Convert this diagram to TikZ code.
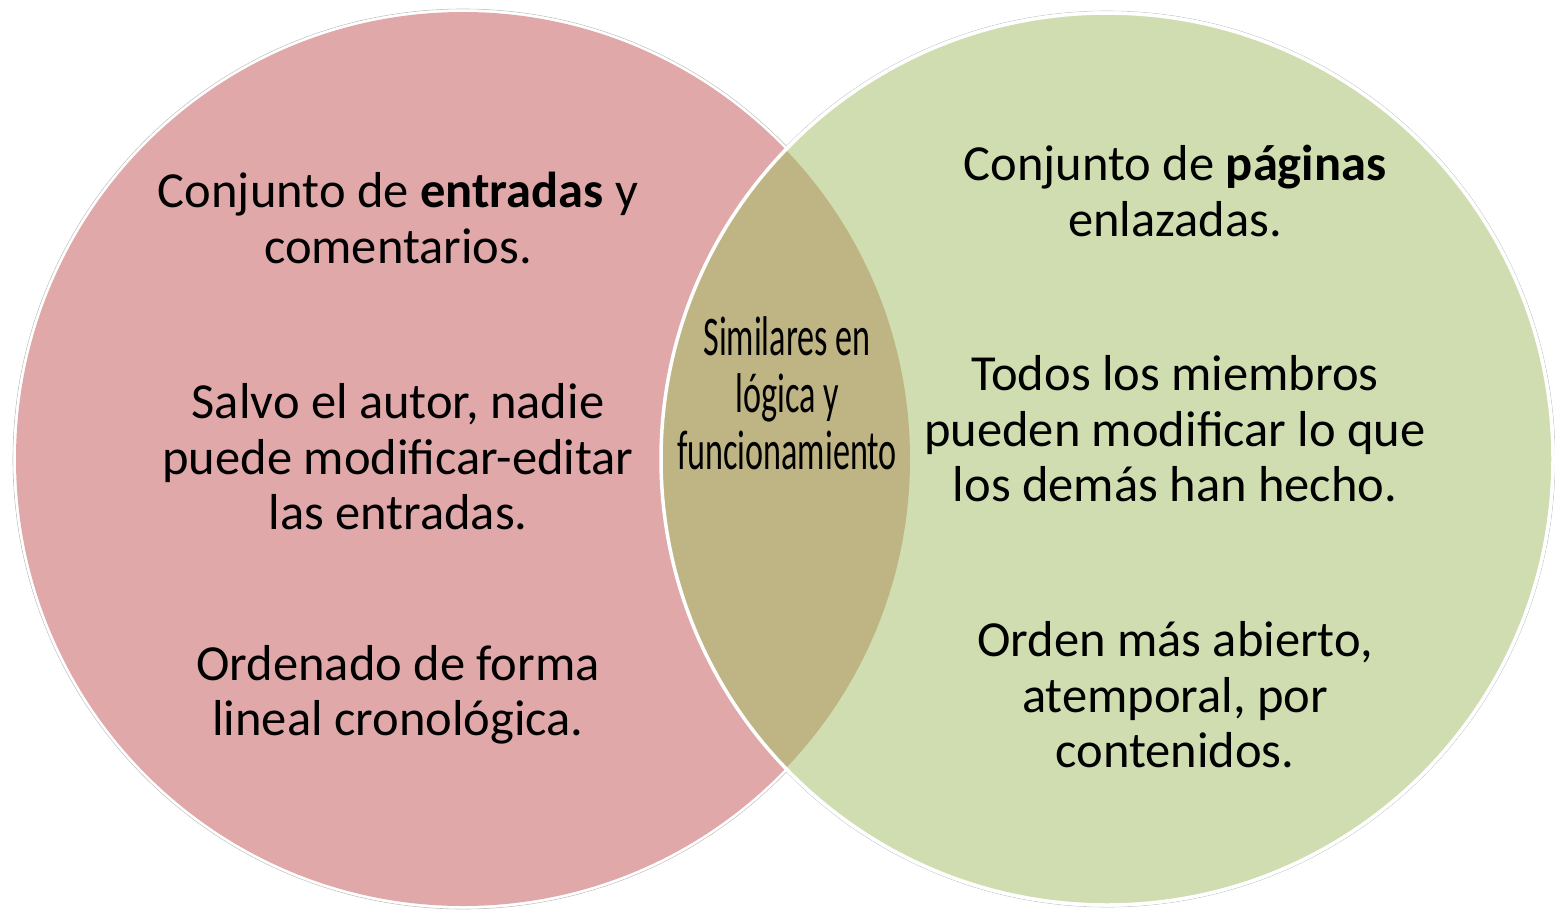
\documentclass[tikz,border=0pt]{standalone}
\usepackage{fontspec}
\setmainfont{Carlito}
\newfontfamily\condfont[FakeStretch=0.61]{Carlito}
\usetikzlibrary{positioning}
\definecolor{blogpink}{RGB}{224,168,168}
\definecolor{wikigreen}{RGB}{207,221,176}
\definecolor{lensolive}{RGB}{191,180,131}
\tikzset{
    % Define style for the two sets
    setcircle/.style={
           circle,
           minimum size=894pt,
           inner sep=0pt},
    % Define style for the texts
    settext/.style={
           align=center,
           font=\fontsize{50.5}{55.5}\selectfont,
           inner sep=0pt},
    lenstext/.style={
           align=center,
           font=\condfont\fontsize{56}{57}\selectfont,
           inner sep=0pt}
}
\begin{document}
\begin{tikzpicture}[x=1pt,y=-1pt]
\useasboundingbox (0,0) rectangle (1555,911);
% faint outer rims
\draw[black!25, line width=0.6pt] (463,459) circle[radius=450pt];
\draw[black!25, line width=0.6pt] (1107,459) circle[radius=448pt];
\fill[white] (463,459) circle[radius=449.5pt];
\fill[white] (1107,459) circle[radius=447.5pt];
% the two sets
\node[setcircle, fill=blogpink] (blog) at (463,459) {};
\node[setcircle, fill=wikigreen, minimum size=890pt] (wiki) at (1107,459) {};
\begin{scope}
  \clip (463,459) circle[radius=447pt];
  \fill[lensolive] (1107,459) circle[radius=445pt];
\end{scope}
\draw[white, line width=3.5pt] (1107,459) circle[radius=446pt];
% texts
\node[settext] (b1) at (398,218) {Conjunto de \textbf{entradas} y\\comentarios.};
\node[settext] (b2) at (398,457) {Salvo el autor, nadie\\puede modificar-editar\\las entradas.};
\node[settext] (b3) at (398,695) {Ordenado de forma\\lineal cronológica.};
\node[settext] (w1) at (1175,191) {Conjunto de \textbf{páginas}\\enlazadas.};
\node[settext] (w2) at (1175,429) {Todos los miembros\\pueden modificar lo que\\los demás han hecho.};
\node[settext] (w3) at (1175,695) {Orden más abierto,\\atemporal, por\\contenidos.};
\node[lenstext] (mid) at (787,393) {Similares en\\lógica y\\funcionamiento};
\end{tikzpicture}
\end{document}
